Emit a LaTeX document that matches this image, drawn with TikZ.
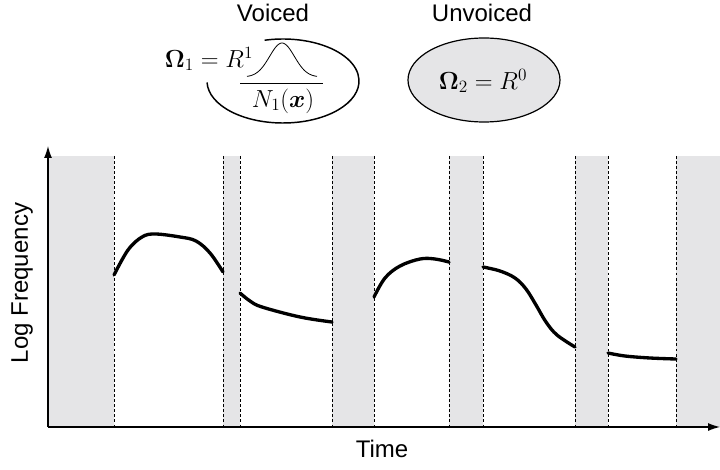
\RequirePackage{fix-cm}
\documentclass[tikz,border=0pt]{standalone}
\usepackage{bm}
\usepackage[no-math]{fontspec}
\setmainfont{Liberation Sans}
\usetikzlibrary{arrows.meta}
\definecolor{bandgray}{RGB}{229,229,231}
\begin{document}
\begin{tikzpicture}[x=0.75pt,y=-0.75pt,
    band/.style={fill=bandgray,draw=none},
    edge/.style={dash pattern=on 2.2pt off 1.6pt, line width=0.5pt},
    pitch/.style={line width=2.5pt, line cap=round},
    axis/.style={line width=0.9pt},
    lbl/.style={font=\fontsize{18}{21}\selectfont},
    eq/.style={font=\fontsize{18.5}{22}\selectfont}]
  \useasboundingbox (0,0) rectangle (720,470);
  % Grey bands
  \foreach \a/\b in {48/114, 223/240, 332/374, 449/483, 575/608, 676/720}
    \fill[band] (\a,156) rectangle (\b,427);
  % Band edges
  \foreach \x in {114,223,240,332,374,449,483,575,608,676}
    \draw[edge] (\x,156) -- (\x,427);
  % Axes
  \coordinate (origin) at (48,427);
  \coordinate (ytip) at (48,146);
  \coordinate (xtip) at (720,427);
  \draw[axis,-{Latex[length=9pt,width=6pt]}] (origin) -- (ytip);
  \draw[axis,-{Latex[length=9pt,width=6pt]}] (origin) -- (xtip);
  \node[lbl,rotate=90] (ylabel) at (22,283) {Log Frequency};
  \node[lbl] (xlabel) at (382,449) {Time};
  % Pitch track
  \draw[pitch] plot[smooth,tension=0.6] coordinates
    {(114,275) (128,250) (142,237) (155,234) (180,237) (196,241) (210,253) (223,272)};
  \draw[pitch] plot[smooth,tension=0.6] coordinates
    {(240,293) (250,301) (262,307) (300,317) (332,322)};
  \draw[pitch] plot[smooth,tension=0.6] coordinates
    {(374,297) (385,278) (400,266) (420,259) (435,259) (449,262)};
  \draw[pitch] plot[smooth,tension=0.6] coordinates
    {(483,267) (500,271) (515,278) (526,289) (536,305) (546,322) (557,335) (575,347)};
  \draw[pitch] plot[smooth,tension=0.6] coordinates
    {(608,353) (625,356) (650,358) (676,359)};
  % Voiced model
  \node[lbl] (voiced) at (273,13) {Voiced};
  \draw[line width=1.1pt] (283,81) ++(-182:76 and 42)
    arc[start angle=-182, end angle=-464, x radius=76, y radius=42];
  \node[eq] (omega1) at (209,59) {$\mathbf{\Omega}_1 = R^1$};
  \draw[line width=0.6pt] plot[domain=-1:1,samples=40]
    ({282+35*\x},{77-34*exp(-4*\x*\x)});
  \coordinate (barl) at (240,83);
  \coordinate (barr) at (323,83);
  \draw[line width=0.6pt] (barl) -- (barr);
  \node[eq] (n1) at (283,101) {$N_1(\bm{x})$};
  % Unvoiced model
  \node[lbl] (unvoiced) at (482,13) {Unvoiced};
  \filldraw[fill=bandgray,line width=0.9pt] (484,80) ellipse [x radius=76, y radius=42];
  \node[eq] (omega2) at (483,81) {$\mathbf{\Omega}_2 = R^0$};
\end{tikzpicture}
\end{document}
